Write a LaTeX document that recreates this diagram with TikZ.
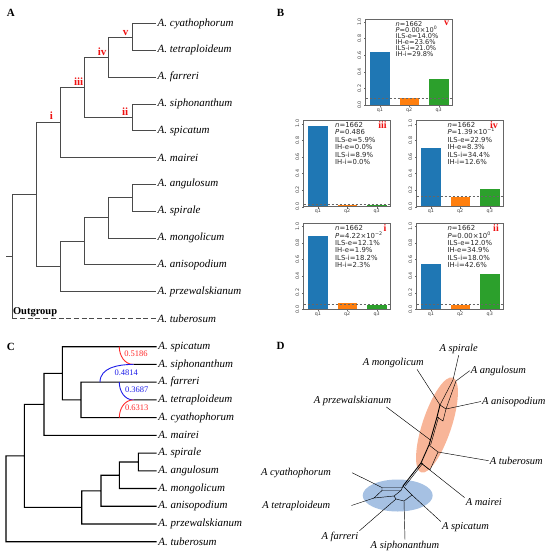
\documentclass[tikz,border=0pt]{standalone}
\usepackage{fontspec}
\setmainfont{Liberation Serif}
\newfontfamily\mplfont{DejaVu Sans}
\usetikzlibrary{positioning}
\definecolor{qblue}{HTML}{1F77B4}
\definecolor{qorange}{HTML}{FF7F0E}
\definecolor{qgreen}{HTML}{2CA02C}
\definecolor{treegray}{HTML}{4A4A4A}
\definecolor{numred}{HTML}{EE1111}
\definecolor{gred}{HTML}{FF2A2A}
\definecolor{gblue}{HTML}{1C1CE8}
\definecolor{blobred}{HTML}{F8B598}
\definecolor{blobblue}{HTML}{A6C1E3}
\tikzstyle{taxon}=[anchor=west,inner sep=1.5pt,font=\fontsize{11}{13}\selectfont\itshape]
\tikzstyle{branch}=[draw=treegray,line width=0.8pt]
\tikzstyle{cbranch}=[draw=black,line width=1.1pt]
\tikzstyle{numeral}=[anchor=base,text=numred,inner sep=0pt,font=\fontsize{11}{12}\selectfont\bfseries]
\tikzstyle{panel}=[anchor=base,inner sep=0pt,font=\fontsize{11}{12}\selectfont\bfseries]
\tikzstyle{gamma}=[anchor=base,inner sep=0pt,font=\fontsize{8.5}{10}\selectfont]
\tikzstyle{stats}=[anchor=north west,inner sep=0pt,align=left,text=black!85,font=\mplfont\fontsize{6.9}{7.4}\selectfont]
\tikzstyle{tick}=[inner sep=0pt,text=black!75,font=\mplfont\fontsize{4.8}{5}\selectfont]
\tikzstyle{frame}=[draw=black!60,line width=0.6pt]
\tikzstyle{qdash}=[draw=black!60,dash pattern=on 2.5pt off 1.5pt,line width=0.5pt]
\tikzstyle{netlab}=[inner sep=1pt,font=\fontsize{10.5}{12}\selectfont\itshape]
\tikzstyle{split}=[draw=black,line width=0.45pt]

% quartet bar chart: name, left, bottom, q1, q2, q3, dashed level
\newcommand{\qchart}[7]{%
  \begin{scope}[shift={(#2,#3)}]
    \fill[qblue] (4.5,0) rectangle (24.5,{-#4*83});
    \fill[qorange] (34,0) rectangle (53.5,{-#5*83});
    \fill[qgreen] (63.5,0) rectangle (83,{-#6*83});
    \draw[qdash] (0,{-#7*83}) -- (87,{-#7*83});
    \draw[frame] (0,0) rectangle (87,-86);
    \foreach \tv [count=\k] in {0.0,0.2,0.4,0.6,0.8,1.0} {
      \draw[frame,line width=0.4pt] (0,{-\tv*83}) -- (-1.8,{-\tv*83});
      \node[tick,rotate=90] (#1y\k) at (-6,{-\tv*83}) {\tv};
    }
    \foreach \q/\qx in {1/14.5,2/43.75,3/73.25} {
      \draw[frame,line width=0.4pt] (\qx,0) -- (\qx,1.8);
      \node[tick] (#1x\q) at (\qx,5) {q\q};
    }
  \end{scope}}

\begin{document}
\setlength{\lineskiplimit}{-5pt}
\begin{tikzpicture}[x=1pt,y=-1pt,>=latex]
\useasboundingbox (0,0) rectangle (550,558);

% ---- A: species tree
\node[panel] (labA) at (10.8,16) {A};
\foreach \nm/\sp [count=\k from 0] in {cyaA/cyathophorum,tetA/tetraploideum,farA/farreri,sipA/siphonanthum,spcA/spicatum,maiA/mairei,angA/angulosum,spiA/spirale,monA/mongolicum,aniA/anisopodium,przA/przewalskianum,tubA/tuberosum}
  \node[taxon] (\nm) at (156,{23.5+26.8*\k}) {A. \sp};
\coordinate (vA) at (132.7,36.9);
\coordinate (ivA) at (108.3,57);
\coordinate (iiA) at (132.7,117.3);
\coordinate (iiiA) at (84.3,87.2);
\coordinate (iA) at (60,122.3);
\coordinate (saA) at (132.7,197.7);
\coordinate (msA) at (108.3,217.8);
\coordinate (amA) at (84.3,241.3);
\coordinate (pmA) at (60,266.4);
\coordinate (ingA) at (36,194.3);
\coordinate (rootA) at (12.3,256.3);
\coordinate (stubA) at (6,256.3);
\draw[branch] (vA) |- (cyaA.west) (vA) |- (tetA.west)
  (ivA) |- (vA) (ivA) |- (farA.west)
  (iiA) |- (sipA.west) (iiA) |- (spcA.west)
  (iiiA) |- (ivA) (iiiA) |- (iiA)
  (iA) |- (iiiA) (iA) |- (maiA.west)
  (saA) |- (angA.west) (saA) |- (spiA.west)
  (msA) |- (saA) (msA) |- (monA.west)
  (amA) |- (msA) (amA) |- (aniA.west)
  (pmA) |- (amA) (pmA) |- (przA.west)
  (ingA) |- (iA) (ingA) |- (pmA)
  (stubA) -- (rootA) (rootA) |- (ingA) (rootA) -- (rootA |- tubA.west);
\draw[branch,dash pattern=on 5pt off 2.7pt] (rootA |- tubA.west) -- (tubA.west);
\node[panel,anchor=base west,font=\fontsize{10.5}{12}\selectfont\bfseries] (outg) at (12.8,314.5) {Outgroup};
\node[numeral] (numv) at (125.5,35) {v};
\node[numeral] (numiv) at (102.2,55) {iv};
\node[numeral] (numiii) at (78.7,85) {iii};
\node[numeral] (numii) at (125.2,115) {ii};
\node[numeral] (numi) at (51.3,119.3) {i};

% ---- B: quartet frequencies
\node[panel] (labB) at (280.5,16.7) {B};
\qchart{bv}{365.5}{105}{0.64}{0.08}{0.31}{0.078}
\qchart{biii}{303.5}{206.7}{0.97}{0.02}{0.02}{0.03}
\qchart{biv}{416.5}{206.7}{0.71}{0.12}{0.21}{0.124}
\qchart{bi}{303.5}{309.3}{0.88}{0.08}{0.05}{0.064}
\qchart{bii}{416.5}{309.3}{0.54}{0.05}{0.42}{0.064}
\node[stats,font=\mplfont\fontsize{6.6}{6.1}\selectfont] (sv) at (395.5,21)
  {\textit{n}=1662\\\textit{P}=0.00×10\textsuperscript{0}\\ILS-e=14.0\%\\IH-e=23.6\%\\ILS-i=21.0\%\\IH-i=29.8\%};
\node[stats] (siii) at (335,122.1)
  {\textit{n}=1662\\\textit{P}=0.486\\ILS-e=5.9\%\\IH-e=0.0\%\\ILS-i=8.9\%\\IH-i=0.0\%};
\node[stats] (siv) at (447.3,122.1)
  {\textit{n}=1662\\\textit{P}=1.39×10\textsuperscript{−1}\\ILS-e=22.9\%\\IH-e=8.3\%\\ILS-i=34.4\%\\IH-i=12.6\%};
\node[stats] (si) at (335,225.4)
  {\textit{n}=1662\\\textit{P}=4.22×10\textsuperscript{−2}\\ILS-e=12.1\%\\IH-e=1.9\%\\ILS-i=18.2\%\\IH-i=2.3\%};
\node[stats] (sii) at (447.3,225.4)
  {\textit{n}=1662\\\textit{P}=0.00×10\textsuperscript{0}\\ILS-e=12.0\%\\IH-e=34.9\%\\ILS-i=18.0\%\\IH-i=42.6\%};
\node[numeral,font=\fontsize{10}{11}\selectfont\bfseries] (bnv) at (446.7,25.7) {v};
\node[numeral,font=\fontsize{10}{11}\selectfont\bfseries] (bniii) at (382.5,128.3) {iii};
\node[numeral,font=\fontsize{10}{11}\selectfont\bfseries] (bniv) at (494,128.3) {iv};
\node[numeral,font=\fontsize{10}{11}\selectfont\bfseries] (bni) at (385,231.7) {i};
\node[numeral,font=\fontsize{10}{11}\selectfont\bfseries] (bnii) at (496,231.7) {ii};

% ---- C: network with inheritance
\node[panel] (labC) at (10.8,350) {C};
\foreach \nm/\sp [count=\k from 0] in {spcC/spicatum,sipC/siphonanthum,farC/farreri,tetC/tetraploideum,cyaC/cyathophorum,maiC/mairei,spiC/spirale,angC/angulosum,monC/mongolicum,aniC/anisopodium,przC/przewalskianum,tubC/tuberosum}
  \node[taxon] (\nm) at (156.7,{346.7+17.73*\k}) {A. \sp};
\coordinate (sfC) at (62.3,373.3);
\coordinate (fcC) at (81,399.9);
\coordinate (smC) at (44,404.4);
\coordinate (saC) at (138.3,462);
\coordinate (msC) at (119.3,475.2);
\coordinate (amC) at (101,490.8);
\coordinate (pmC) at (81.7,507.4);
\coordinate (ingC) at (24.3,455.9);
\coordinate (rootC) at (6,498.8);
\coordinate (hsC) at (133.3,364.4);
\coordinate (htC) at (133.3,399.9);
\coordinate (g1) at (119.3,346.7);
\coordinate (g2) at (100,382.2);
\coordinate (g3) at (119.3,382.2);
\coordinate (g4) at (119.3,417.6);
\draw[cbranch] (sfC) |- (spcC.west) (sfC) |- (fcC)
  (fcC) |- (farC.west) (fcC) |- (cyaC.west)
  (smC) |- (sfC) (smC) |- (maiC.west)
  (saC) |- (spiC.west) (saC) |- (angC.west)
  (msC) |- (saC) (msC) |- (monC.west)
  (amC) |- (msC) (amC) |- (aniC.west)
  (pmC) |- (amC) (pmC) |- (przC.west)
  (ingC) |- (smC) (ingC) |- (pmC)
  (rootC) |- (ingC) (rootC) |- (tubC.west)
  (hsC) -- (sipC.west) (htC) -- (tetC.west);
\draw[gred,line width=0.9pt] (g1) to[out=-90,in=180] (hsC);
\draw[gblue,line width=0.9pt] (g2) to[out=90,in=180] (hsC);
\draw[gblue,line width=0.9pt] (g3) to[out=-90,in=180] (htC);
\draw[gred,line width=0.9pt] (g4) to[out=90,in=180] (htC);
\node[gamma,text=gred] (gm1) at (136,356.7) {0.5186};
\node[gamma,text=gblue] (gm2) at (126.3,375) {0.4814};
\node[gamma,text=gblue] (gm3) at (136.7,392.7) {0.3687};
\node[gamma,text=gred] (gm4) at (136.7,410) {0.6313};

% ---- D: split network
\node[panel] (labD) at (280.5,349.3) {D};
\fill[blobred,rotate around={71.6:(437,425)}] (437,425) ellipse [x radius=50,y radius=14.5];
\fill[blobblue] (397.7,495.5) ellipse [x radius=35,y radius=16];
\node[netlab] (dspi) at (458.7,349.3) {A spirale};
\node[netlab] (dmon) at (393.3,363.3) {A mongolicum};
\node[netlab] (dang) at (498.5,370.7) {A angulosum};
\node[netlab] (dprz) at (352.5,401) {A przewalskianum};
\node[netlab] (dani) at (513.8,401.5) {A anisopodium};
\node[netlab] (dtub) at (516.3,460.7) {A tuberosum};
\node[netlab] (dcya) at (296,472.7) {A cyathophorum};
\node[netlab] (dtet) at (296.3,505.5) {A tetraploideum};
\node[netlab] (dfar) at (340,536.7) {A farreri};
\node[netlab] (dsip) at (405,545.7) {A siphonanthum};
\node[netlab] (dspc) at (465.5,527.3) {A spicatum};
\node[netlab] (dmai) at (483.8,502.3) {A mairei};
\coordinate (hub) at (403,486);
\coordinate (t1) at (421,463);
\coordinate (t2) at (429,445);
\coordinate (t3) at (438,452);
\coordinate (t4) at (430,470);
\coordinate (pz) at (430.4,440);
\coordinate (m1) at (437,417);
\coordinate (m2) at (440,405);
\coordinate (m3) at (446,409);
\coordinate (m4) at (443,421);
\coordinate (sp) at (453,380);
\coordinate (an) at (456,381);
\coordinate (b1) at (382,487.5);
\coordinate (b2) at (403,487.5);
\coordinate (b3) at (382,490.5);
\coordinate (b4) at (401,490.5);
\coordinate (b5) at (374,498);
\coordinate (b6) at (394,496);
\coordinate (r2) at (412,495);
\coordinate (r3) at (404,501);
\coordinate (r4) at (396,499);
\draw[split,line width=0.9pt] (hub) -- (t1) -- (t2) -- (m1) -- (m2);
\draw[split] ([xshift=2pt]hub) -- ([xshift=2pt]t1);
\draw[split] ([xshift=1.6pt]t2) -- ([xshift=1.6pt]m1);
\draw[split] (m2) -- (sp) (m3) -- (an);
\draw[split] (t1) -- (t4) -- (t3) -- (t2);
\draw[split] (m1) -- (m4) -- (m3) -- (m2);
\draw[split] (b1) -- (b2) (b3) -- (b4) (b1) -- (b3) -- (b5) -- (b6) -- (b4) -- (hub);
\draw[split] (hub) -- (r2) -- (r3) -- (r4) -- (b6);
\draw[split] (sp) -- (dspi.south);
\draw[split] (an) -- (dang.west);
\draw[split] (m2) -- ([xshift=-8pt]dmon.south east);
\draw[split] (pz) -- ([xshift=-6pt]dprz.south east);
\draw[split] (m3) -- (dani.west);
\draw[split] (t3) -- (dtub.west);
\draw[split] (t1) -- (dmai.north west);
\draw[split] (r2) -- (dspc.north west);
\draw[split] (r3) -- (dsip.north);
\draw[split] (r4) -- (dfar.north east);
\draw[split] (b1) -- ([xshift=20pt]dcya.east);
\draw[split] (b5) -- ([xshift=20pt]dtet.east);
\end{tikzpicture}
\end{document}
